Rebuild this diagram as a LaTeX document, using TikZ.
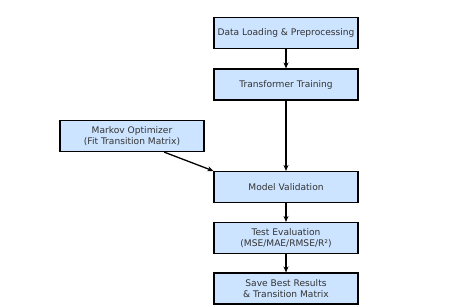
\documentclass[tikz,border=0pt]{standalone}
\usepackage{fontspec}
\setmainfont{DejaVu Sans}
\usetikzlibrary{arrows.meta,calc}
\definecolor{boxfill}{RGB}{204,228,255}
\definecolor{txt}{RGB}{51,51,51}
\tikzset{
  stagebox/.style={draw=black, line width=1.1pt, fill=boxfill, minimum width=144pt, minimum height=31pt, inner sep=0pt, align=center, text=txt, font=\fontsize{9.1}{10.6}\selectfont},
  flowarrow/.style={draw=black, line width=1.3pt, -{Stealth[length=6pt,width=5pt]}}
}
\begin{document}
\begin{tikzpicture}[x=1pt,y=-1pt]
\useasboundingbox[fill=white] (0,0) rectangle (454,307);
\node[stagebox] (data) at (286,33) {Data Loading \& Preprocessing};
\node[stagebox] (train) at (286,84.5) {Transformer Training};
\node[stagebox] (markov) at (132,136) {Markov Optimizer\\(Fit Transition Matrix)};
\node[stagebox] (valid) at (286,187) {Model Validation};
\node[stagebox] (test) at (286,238) {Test Evaluation\\(MSE/MAE/RMSE/R²)};
\node[stagebox] (save) at (286,288.5) {Save Best Results\\\& Transition Matrix};
\draw[flowarrow] (data) -- (train);
\draw[flowarrow] (train) -- (valid);
\draw[flowarrow] (valid) -- (test);
\draw[flowarrow] (test) -- (save);
\draw[flowarrow] ($(markov.south)+(32,0)$) -- (valid.north west);
\end{tikzpicture}
\end{document}
